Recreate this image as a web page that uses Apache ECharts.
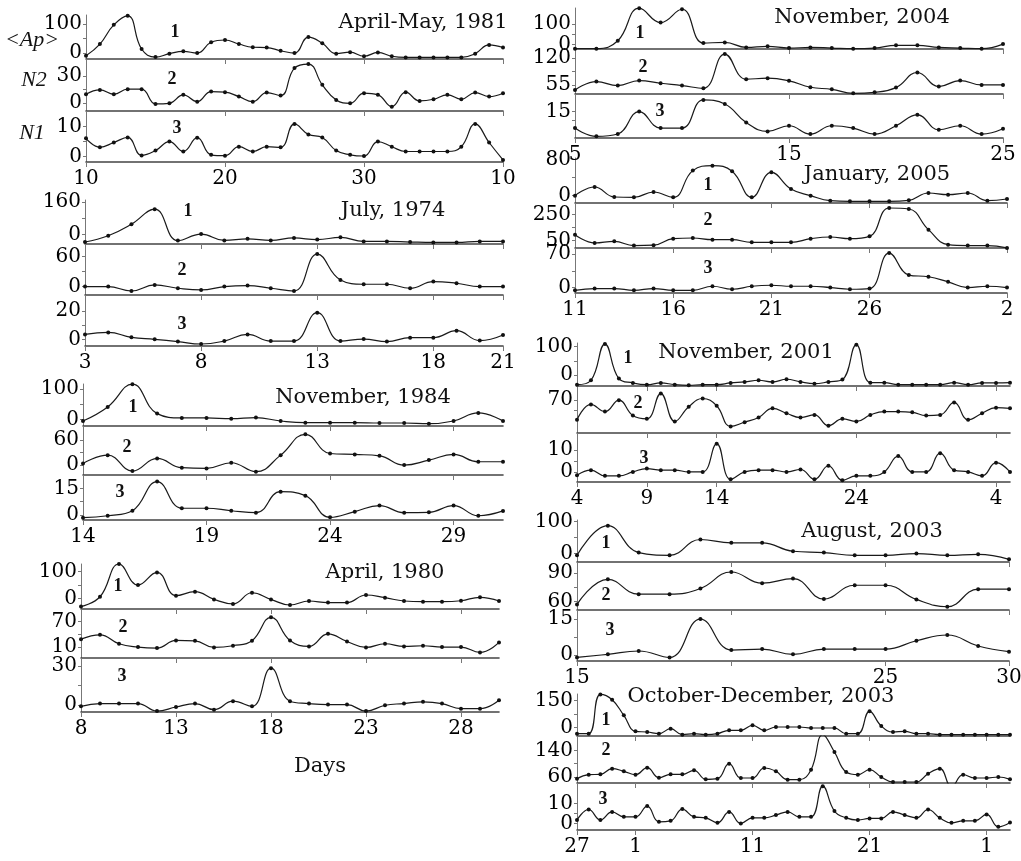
<!DOCTYPE html>
<html><head><meta charset="utf-8">
<script src="https://cdn.jsdelivr.net/npm/echarts@6/dist/echarts.min.js"></script>
<style>html,body{margin:0;padding:0;background:#fff}#c{width:1021px;height:861px}</style>
</head><body><div id="c"></div>
<script>
// ---------- DATA ----------
// April-May 1981 (10 Apr .. 10 May)
const aprMay1981_dayIdx = [0, 10, 20, 30];
const aprMay1981_days = ['10', '20', '30', '10'];
const aprMay1981_ap = [-9,31,97,128,14,-14,-2,6,0,37,45,31,20,19,8,0,55,34,-2,3,-11,2,-11,-15,-15,-15,-15,-15,-2,28,19];
const aprMay1981_n2 = [9.9,14.6,9.9,15.4,15.4,-0.7,0,9.2,1.8,12.8,12.1,7.3,1.8,11.7,8.4,38.4,42.8,20.1,3.7,0,11,9.2,-3.7,12.1,2.6,4.4,9.2,4.4,11.7,7.3,11];
const aprMay1981_n1 = [6.1,3.1,4.7,6.4,0.4,2.0,5.0,1.7,6.3,0.6,0.3,3.3,1.7,3.3,3.1,10.9,7.4,6.4,2.0,0.6,0.2,5.0,3.3,1.7,1.7,1.7,1.7,3.3,10.9,4.7,-1.1];
const aprMay1981_yLabels = [[0,100],[0,30],[0,10]];

// July 1974 (3 .. 21)
const jul1974_dayIdx = [0, 5, 10, 15, 18];
const jul1974_days = ['3', '8', '13', '18', '21'];
const jul1974_ap = [-36,-5,52,126,-29,3,-28,-20,-28,-16,-24,-13,-33,-33,-36,-38,-38,-33,-33];
const jul1974_n2 = [0,0,-8.7,3.3,-3.3,-6.7,0,2,-3.3,-8.7,64.7,13.3,4.7,4.7,-3.3,10,6.7,0,0];
const jul1974_n1 = [3.5,4.9,1.4,0,-1.6,-3.3,-1.2,3.5,-1.2,-1.2,18.8,-1.2,0.2,-1.6,1.2,1.2,6.1,-0.9,3.1];
const jul1974_yLabels = [[0,160],[0,60],[0,20]];

// November 1984 (14 ..)
const nov1984_dayIdx = [0, 5, 10, 15];
const nov1984_days = ['14', '19', '24', '29'];
const nov1984_ap = [-4.4,41.8,116.5,19.8,5.5,5.5,3.3,6.6,-4.4,-9.9,-9.9,-9.9,-11,-11,-13.2,-4.4,22,-4.4];
const nov1984_n2 = [4,24,-14.4,16,-6.4,-8,5.6,-16,24,74.4,28,25.6,22.4,0,12,25.6,8,8];
const nov1984_n1 = [-1.5,-0.4,2.4,18.8,3.8,3.8,2.4,1.3,13.1,10.9,-1.3,1.9,5.3,1.3,1.5,5.3,-0.4,2.3];
const nov1984_yLabels = [[0,100],[0,60],[0,15]];

// April 1980 (8 .. 30)
const apr1980_dayIdx = [0, 5, 10, 15, 20];
const apr1980_days = ['8', '13', '18', '23', '28'];
const apr1980_ap = [-31,6,129,50,97.5,10,25,-4,-21,21,-4,-25,-10,-16,-16,12.5,2.5,-10,-12.5,-12.5,-9,4,-10];
const apr1980_n2 = [28.7,38.8,17.8,10,7.7,25.6,24.8,9.2,13.1,24.8,80.1,25.6,11.6,41.2,23.2,9.2,17.8,11.6,13.1,10,10,-2.5,21];
const apr1980_n1 = [-0.8,1.3,1.3,1.3,-4.4,-1.3,1.3,-3.3,3.1,-0.8,28.2,3.1,1.3,0.5,0.5,-4.4,0,1.3,2.6,1.3,-2.6,-2.6,3.8];
const apr1980_yLabels = [[0,100],[10,70],[0,30]];

// November 2004 (5 .. 25)
const nov2004_dayIdx = [0, 10, 20];
const nov2004_days = ['5', '15', '25'];
const nov2004_ap = [-19,-19,19,175,106,170,8,11,-13,-8,-16,-13,-16,-19,-16,-3,-3,-13,-16,-19,3];
const nov2004_n2 = [42.8,63.1,53.4,65.6,59.1,53.4,46.9,129.8,68.8,71.3,64.8,49.3,44.4,34.7,37.1,48.5,85.1,51,65.6,55,55];
const nov2004_n1 = [0,-7.5,-5.4,15,0,0,25.5,21.9,5.1,-3,2.1,-5.4,2.1,0,-5.4,2.1,12,-1.5,2.1,-5.4,-0.6];
const nov2004_yLabels = [[0,100],[55,120],[0,15]];

// January 2005 (11 Jan .. 2 Feb)
const jan2005_dayIdx = [0, 5, 10, 15, 22];
const jan2005_days = ['11', '16', '21', '26', '2'];
const jan2005_ap = [-0.7,18.7,-3.7,-4.5,7.5,-4.5,55.4,66.6,53.9,-4.5,51.6,14.2,-0.7,-12,-13.5,-13.5,-13.5,-11.2,5.2,1.5,5.2,-12,-8.2];
const jan2005_n2 = [96.2,32,44.9,12.3,15,65.4,70.5,57.7,57.7,37.2,37.2,37.2,65.4,78.2,65.4,83.3,301.3,293.6,134.6,19.2,12.3,12.3,-5.9];
const jan2005_n1 = [-5.7,-2.1,-2.1,-5.7,-2.1,-5.7,-5.7,2.8,-3.5,2.8,4.9,2.8,2.8,0,-3.5,-2.1,72.1,26.2,22.6,12,0,2.8,0];
const jan2005_yLabels = [[0,80],[50,250],[0,70]];

// November 2001 (4 Nov .. 5 Dec)
const nov2001_dayIdx = [0, 5, 10, 20, 30];
const nov2001_days = ['4', '9', '14', '24', '4'];
const nov2001_ap = [-33,-17.6,108,-11.8,-27,-33,-27,-33,-35.3,-33,-33,-27,-23.5,-17.6,-23.5,-14.1,-23.5,-29.4,-23.5,-15.3,105.8,-25.9,-25.9,-33,-33,-33,-33,-25.9,-33,-27,-27,-25.9];
const nov2001_n2 = [30,61.3,46.7,70,38.7,32,83.3,26.7,56.7,73.3,58.7,16.7,25.3,34.7,53.3,43.3,34.7,40,18,32,26.7,40,46.7,46.7,45.3,38.7,40,65.3,30,43.3,54.7,53.3];
const nov2001_n1 = [-1.5,0.8,-1.8,-1.8,0,1.5,0.8,0.8,0,0,12.8,-3.4,0,0.8,0.8,0,1.1,-3.4,2.8,-3.8,-1.8,-1.8,0,7.2,0,0,8.5,0.8,0,-1.8,4.2,0];
const nov2001_yLabels = [[0,100],[30,70],[0,10]];

// August 2003
const aug2003_dayIdx = [0, 10, 14];
const aug2003_days = ['15', '25', '30'];
const aug2003_ap = [-5.3,87.4,3.2,-5.3,44.2,33.7,33.7,7.4,3.2,-5.3,-5.3,0,-5.3,-2.1,-17.9];
const aug2003_n2 = [57.2,83.4,67.9,67.9,73.8,91,79.3,84.1,62.8,77.2,77.2,62.4,54.8,73.1,73.1];
const aug2003_n1 = [-1,0.3,1.7,-1,15.1,2.1,2.5,0.3,2.5,2.5,2.5,6,8.4,3.8,1.4];
const aug2003_yLabels = [[0,100],[60,90],[0,15]];

// October-December 2003 (27 Oct .. 3 Dec)
const octDec2003_dayIdx = [0, 5, 15, 25, 35];
const octDec2003_days = ['27', '1', '11', '21', '1'];
const octDec2003_ap = [-32.9,-32.9,182.9,153.6,67.7,-20.1,-23.8,-32.9,-5.5,-38.4,-32.9,-38.4,-32.9,-14.6,-14.6,12.8,-14.6,3.7,3.7,3.7,-1.8,-1.8,-1.8,-32.9,-32.9,89.6,9.1,-23.8,-20.1,-32.9,-32.9,-38.4,-38.4,-38.4,-38.4,-38.4,-38.4,-38.4];
const octDec2003_n2 = [55,67,68,85,77,67,88,58,68,68,80,53,55,100,57,57,87,77,52,52,82,187,135,75,67,82,60,45,45,45,70,85,30,67,57,57,60,53];
const octDec2003_n1 = [1.7,7,1.7,5.8,3.3,3.3,8.7,0.8,1.3,7.2,3.3,2.8,0.3,5.8,0,2.8,2.8,4.2,5.8,3.3,3.3,18.7,6.2,2.8,1.7,2.5,2.5,5.8,4.2,2.8,7,2.8,0.3,1.3,1.3,4.5,-1.7,0.5];
const octDec2003_yLabels = [[0,150],[60,140],[0,10]];

const titles = ['April-May, 1981','July, 1974','November, 1984','April, 1980','November, 2004','January, 2005','November, 2001','August, 2003','October-December, 2003'];

// ---------- LAYOUT ----------
const groups = [
  {x:[86,503], rows:[[15,59],[59,111],[111,162]], ser:[aprMay1981_ap,aprMay1981_n2,aprMay1981_n1], rng:[[-20.5,131],[-8.4,48.3],[-1.8,15.2]], yl:aprMay1981_yLabels, xi:aprMay1981_dayIdx, xl:aprMay1981_days,
   title:[423,23], nums:[[175,32],[172,79],[177,128]]},
  {x:[85,503], rows:[[200,244],[244,295],[295,346]], ser:[jul1974_ap,jul1974_n2,jul1974_n1], rng:[[-45.7,171],[-16.7,84.7],[-4.7,31.3]], yl:jul1974_yLabels, xi:jul1974_dayIdx, xl:jul1974_days,
   title:[393,211], nums:[[188,211],[182,270],[182,324]]},
  {x:[83,503], rows:[[384,426],[426,475],[475,520]], ser:[nov1984_ap,nov1984_n2,nov1984_n1], rng:[[-20.9,117],[-24,94.4],[-2.8,22.5]], yl:nov1984_yLabels, xi:nov1984_dayIdx, xl:nov1984_days,
   title:[363,398], nums:[[133,407],[127,447],[120,492]]},
  {x:[81,499], rows:[[564,609],[609,658],[658,712]], ser:[apr1980_ap,apr1980_n2,apr1980_n1], rng:[[-40,129],[-15.7,99.6],[-5.1,35.9]], yl:apr1980_yLabels, xi:apr1980_dayIdx, xl:apr1980_days,
   title:[385,573], nums:[[118,586],[123,627],[122,676]]},
  {x:[575,1003], rows:[[8,49],[49,94],[94,138]], ser:[nov2004_ap,nov2004_n2,nov2004_n1], rng:[[-20.6,176],[33,142],[-9,30.9]], yl:nov2004_yLabels, xi:nov2004_dayIdx, xl:nov2004_days,
   title:[862,18], nums:[[640,33],[643,67],[660,111]]},
  {x:[575,1007], rows:[[158,203],[203,248],[248,293]], ser:[jan2005_ap,jan2005_n2,jan2005_n1], rng:[[-17.2,83.7],[-6.4,339.7],[-11.3,82.7]], yl:jan2005_yLabels, xi:jan2005_dayIdx, xl:jan2005_days,
   title:[877,175], nums:[[708,185],[708,220],[708,268]]},
  {x:[577,1010], rows:[[343,386],[386,433],[433,482]], ser:[nov2001_ap,nov2001_n2,nov2001_n1], rng:[[-37.6,111.8],[3.3,98.7],[-4.6,17.7]], yl:nov2001_yLabels, xi:nov2001_dayIdx, xl:nov2001_days,
   title:[746,353], nums:[[628,358],[638,403],[644,458]]},
  {x:[577,1009], rows:[[520,562],[562,610],[610,661]], ser:[aug2003_ap,aug2003_n2,aug2003_n1], rng:[[-26.3,105.3],[51.4,101.4],[-2.5,18.9]], yl:aug2003_yLabels, xi:aug2003_dayIdx, xl:aug2003_days,
   title:[872,532], nums:[[606,543],[606,595],[610,630]]},
  {x:[577,1010], rows:[[694,736],[736,783],[783,830]], ser:[octDec2003_ap,octDec2003_n2,octDec2003_n1], rng:[[-45.7,185],[42,183],[-3.3,20.3]], yl:octDec2003_yLabels, xi:octDec2003_dayIdx, xl:octDec2003_days,
   title:[761,697], nums:[[606,720],[606,750],[603,799]]}
];

const AX = '#444';
const FONT = '"DejaVu Serif", serif';
const grid = [], xAxis = [], yAxis = [], series = [], graphic = [];
groups.forEach((g, gi) => {
  const n = g.ser[0].length;
  g.ser.forEach((arr, r) => {
    const idx = grid.length;
    const bottomRow = r === 2;
    grid.push({left: g.x[0], width: g.x[1] - g.x[0], top: g.rows[r][0], height: g.rows[r][1] - g.rows[r][0], containLabel: false, outerBoundsMode: 'none'});
    xAxis.push({
      type: 'value', gridIndex: idx, min: 0, max: n - 1,
      splitLine: {show: false},
      axisLine: {show: true, onZero: false, lineStyle: {color: AX, width: 1.6}},
      axisTick: {show: true, customValues: g.xi.concat(gi === 7 ? [5] : []), length: 5, lineStyle: {color: '#777'}},
      axisLabel: {show: bottomRow, customValues: g.xi, margin: 7, color: '#000', fontFamily: FONT, fontSize: 20,
        formatter: v => { const k = g.xi.indexOf(Math.round(v)); return k >= 0 ? g.xl[k] : ''; }}
    });
    const yl = g.yl[r];
    const mids = [yl[0] + (yl[1] - yl[0]) / 2];
    yAxis.push({
      type: 'value', gridIndex: idx, min: g.rng[r][0], max: g.rng[r][1],
      splitLine: {show: false},
      axisLine: {show: true, onZero: false, lineStyle: {color: '#777', width: 1}},
      axisTick: {show: true, customValues: yl.concat(mids), length: 3, lineStyle: {color: '#777'}},
      axisLabel: {show: true, customValues: yl, margin: 4, color: '#000', fontFamily: FONT, fontSize: 20}
    });
    series.push({
      type: 'line', xAxisIndex: idx, yAxisIndex: idx, smooth: 0.45, clip: true,
      data: arr.map((v, j) => [j, v]),
      symbol: 'circle', symbolSize: 4, showSymbol: true,
      lineStyle: {color: '#1a1a1a', width: 1.2}, itemStyle: {color: '#111'},
      silent: true, animation: false
    });
  });
  graphic.push({type: 'text', silent: true, style: {text: titles[gi], x: g.title[0], y: g.title[1], fill: '#111',
    font: '21px "DejaVu Serif"', textAlign: 'center', textVerticalAlign: 'middle', verticalAlign: 'middle'}});
  g.nums.forEach((p, k) => graphic.push({type: 'text', silent: true, style: {text: String(k + 1), x: p[0], y: p[1], fill: '#111',
    font: 'bold 18px "Liberation Serif"', textAlign: 'center', textVerticalAlign: 'middle', verticalAlign: 'middle'}}));
});
const side = [['<Ap>', 32, 40], ['N2', 34, 80], ['N1', 32, 133]];
side.forEach(s => graphic.push({type: 'text', silent: true, style: {text: s[0], x: s[1], y: s[2], fill: '#111',
  font: 'italic 22px "Liberation Serif"', textAlign: 'center', textVerticalAlign: 'middle', verticalAlign: 'middle'}}));
graphic.push({type: 'text', silent: true, style: {text: 'Days', x: 320, y: 767, fill: '#111',
  font: '21px "DejaVu Serif"', textAlign: 'center', textVerticalAlign: 'middle', verticalAlign: 'middle'}});

const chart = echarts.init(document.getElementById('c'), null, {renderer: 'canvas'});
chart.setOption({backgroundColor: '#fff', animation: false, grid, xAxis, yAxis, series, graphic});
</script>
</body></html>
